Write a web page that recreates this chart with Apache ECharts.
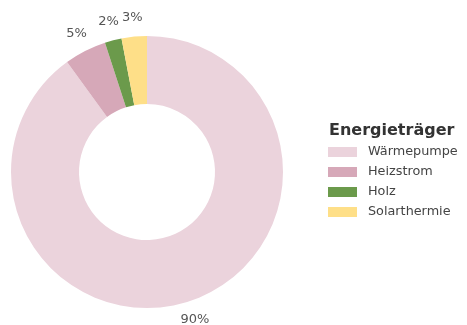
<!DOCTYPE html>
<html>
<head>
<meta charset="utf-8">
<script src="https://cdn.jsdelivr.net/npm/echarts@6/dist/echarts.min.js"></script>
<style>
  html, body { margin: 0; padding: 0; background: #fff; }
  #chart { width: 467px; height: 325px; }
</style>
</head>
<body>
<div id="chart"></div>
<script>
const categories = ["Wärmepumpe", "Heizstrom", "Holz", "Solarthermie"];
const shares = [90, 5, 2, 3];
const colors = ["#ebd3dc", "#d6a8b8", "#6b9a4b", "#fedf88"];

const font = "DejaVu Sans";
const pieData = categories.map((name, i) => ({ name, value: shares[i] }));

const chart = echarts.init(document.getElementById("chart"));
chart.setOption({
  animation: false,
  color: colors,
  title: {
    text: "Energieträger",
    left: 329,
    top: 123,
    padding: 0,
    textStyle: { fontFamily: font, fontSize: 16, fontWeight: "bold", color: "#333" },
  },
  legend: {
    data: categories,
    orient: "vertical",
    left: 328,
    top: 145,
    padding: 0,
    itemWidth: 29,
    itemHeight: 10,
    itemGap: 6,
    icon: "rect",
    textStyle: { fontFamily: font, fontSize: 12.8, color: "#444", padding: [0, 0, 0, 6], lineHeight: 14 },
  },
  series: [
    {
      type: "pie",
      center: [147, 172],
      radius: [68, 136],
      startAngle: 90,
      clockwise: true,
      data: pieData,
      label: { show: false },
      labelLine: { show: false },
      itemStyle: { borderWidth: 0 },
      emphasis: { disabled: true },
    },
    {
      // unsichtbarer Ring nur für die Prozent-Beschriftung
      type: "pie",
      center: [147, 172],
      radius: [142, 162],
      startAngle: 90,
      clockwise: true,
      silent: true,
      data: pieData,
      itemStyle: { color: "rgba(0,0,0,0)" },
      label: {
        show: true,
        position: "inside",
        formatter: (p) => Math.round(p.percent) + "%",
        fontFamily: font,
        fontSize: 13,
        color: "#555",
      },
      labelLine: { show: false },
      emphasis: { disabled: true },
    },
  ],
});
</script>
</body>
</html>
